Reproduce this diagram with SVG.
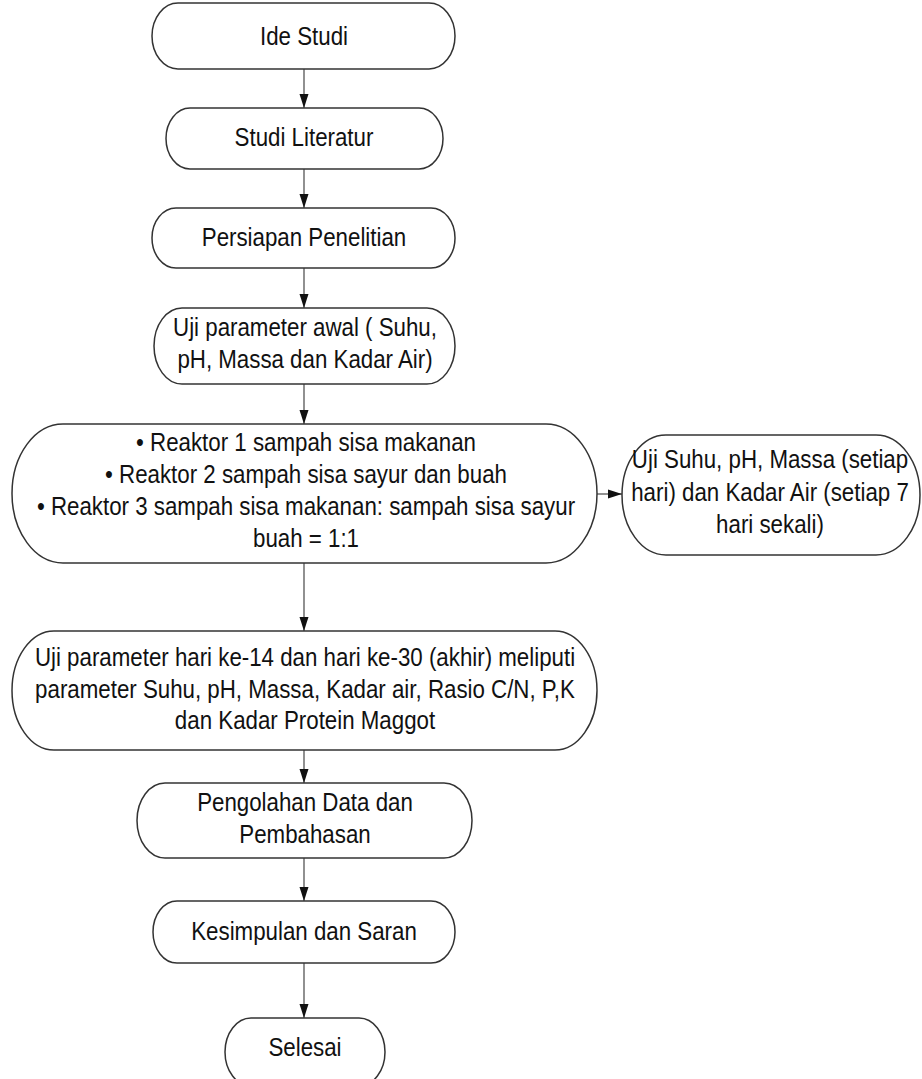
<svg xmlns="http://www.w3.org/2000/svg" width="922" height="1079" viewBox="0 0 922 1079">
<style>
.box{fill:#ffffff;stroke:#333333;stroke-width:1.5}
.lbl{font-family:"Liberation Sans",Arial,sans-serif;font-size:25.5px;fill:#111111;text-anchor:middle}
.con{fill:none;stroke:#555555;stroke-width:1.3;marker-end:url(#ah)}
</style>
<defs>
<marker id="ah" markerUnits="userSpaceOnUse" markerWidth="14" markerHeight="10" refX="14" refY="5" orient="auto">
<path d="M0,0.5 L14,5 L0,9.5 z" fill="#111111"/>
</marker>
</defs>
<rect width="922" height="1079" fill="#ffffff"/>
<g id="connectors">
<line class="con" x1="304" y1="69" x2="304" y2="108"/>
<line class="con" x1="304" y1="169" x2="304" y2="208"/>
<line class="con" x1="304" y1="268" x2="304" y2="308"/>
<line class="con" x1="304" y1="384" x2="304" y2="424"/>
<line class="con" x1="597" y1="494" x2="622" y2="494"/>
<line class="con" x1="304" y1="563" x2="304" y2="631"/>
<line class="con" x1="304" y1="750" x2="304" y2="783"/>
<line class="con" x1="304" y1="858" x2="304" y2="901"/>
<line class="con" x1="304" y1="963" x2="304" y2="1018"/>
</g>
<g id="n1">
<rect class="box" x="152" y="3" width="303" height="66" rx="26" ry="33"/>
<g transform="translate(304 0) scale(0.875 1)"><text class="lbl" x="0" y="45">Ide Studi</text></g>
</g>
<g id="n2">
<rect class="box" x="166" y="108" width="277" height="61" rx="24" ry="30.5"/>
<g transform="translate(304 0) scale(0.875 1)"><text class="lbl" x="0" y="146">Studi Literatur</text></g>
</g>
<g id="n3">
<rect class="box" x="152" y="208" width="303" height="60" rx="24" ry="30"/>
<g transform="translate(304 0) scale(0.875 1)"><text class="lbl" x="0" y="246">Persiapan Penelitian</text></g>
</g>
<g id="n4">
<rect class="box" x="154" y="308" width="301" height="76" rx="28" ry="38"/>
<g transform="translate(305 0) scale(0.875 1)"><text class="lbl" x="0" y="336">Uji parameter awal ( Suhu,</text><text class="lbl" x="0" y="368">pH, Massa dan Kadar Air)</text></g>
</g>
<g id="n5">
<rect class="box" x="12" y="424" width="585" height="139" rx="51" ry="69.5"/>
<g transform="translate(306 0) scale(0.875 1)"><text class="lbl" x="0" y="451">• Reaktor 1 sampah sisa makanan</text><text class="lbl" x="0" y="483">• Reaktor 2 sampah sisa sayur dan buah</text><text class="lbl" x="0" y="515">• Reaktor 3 sampah sisa makanan: sampah sisa sayur</text><text class="lbl" x="0" y="547">buah = 1:1</text></g>
</g>
<g id="n6">
<rect class="box" x="622" y="435" width="298" height="120" rx="44" ry="60"/>
<g transform="translate(770 0) scale(0.875 1)"><text class="lbl" x="0" y="468">Uji Suhu, pH, Massa (setiap</text><text class="lbl" x="0" y="501">hari) dan Kadar Air (setiap 7</text><text class="lbl" x="0" y="533">hari sekali)</text></g>
</g>
<g id="n7">
<rect class="box" x="12" y="631" width="585" height="119" rx="42" ry="59.5"/>
<g transform="translate(305 0) scale(0.875 1)"><text class="lbl" x="0" y="666">Uji parameter hari ke-14 dan hari ke-30 (akhir) meliputi</text><text class="lbl" x="0" y="698">parameter Suhu, pH, Massa, Kadar air, Rasio C/N, P,K</text><text class="lbl" x="0" y="729">dan Kadar Protein Maggot</text></g>
</g>
<g id="n8">
<rect class="box" x="137" y="783" width="335" height="75" rx="28" ry="37.5"/>
<g transform="translate(305 0) scale(0.875 1)"><text class="lbl" x="0" y="811">Pengolahan Data dan</text><text class="lbl" x="0" y="843">Pembahasan</text></g>
</g>
<g id="n9">
<rect class="box" x="153" y="901" width="302" height="62" rx="24" ry="31"/>
<g transform="translate(304 0) scale(0.875 1)"><text class="lbl" x="0" y="940">Kesimpulan dan Saran</text></g>
</g>
<g id="n10">
<rect class="box" x="225" y="1018" width="160" height="68" rx="26" ry="34"/>
<g transform="translate(305 0) scale(0.875 1)"><text class="lbl" x="0" y="1056">Selesai</text></g>
</g>
</svg>
